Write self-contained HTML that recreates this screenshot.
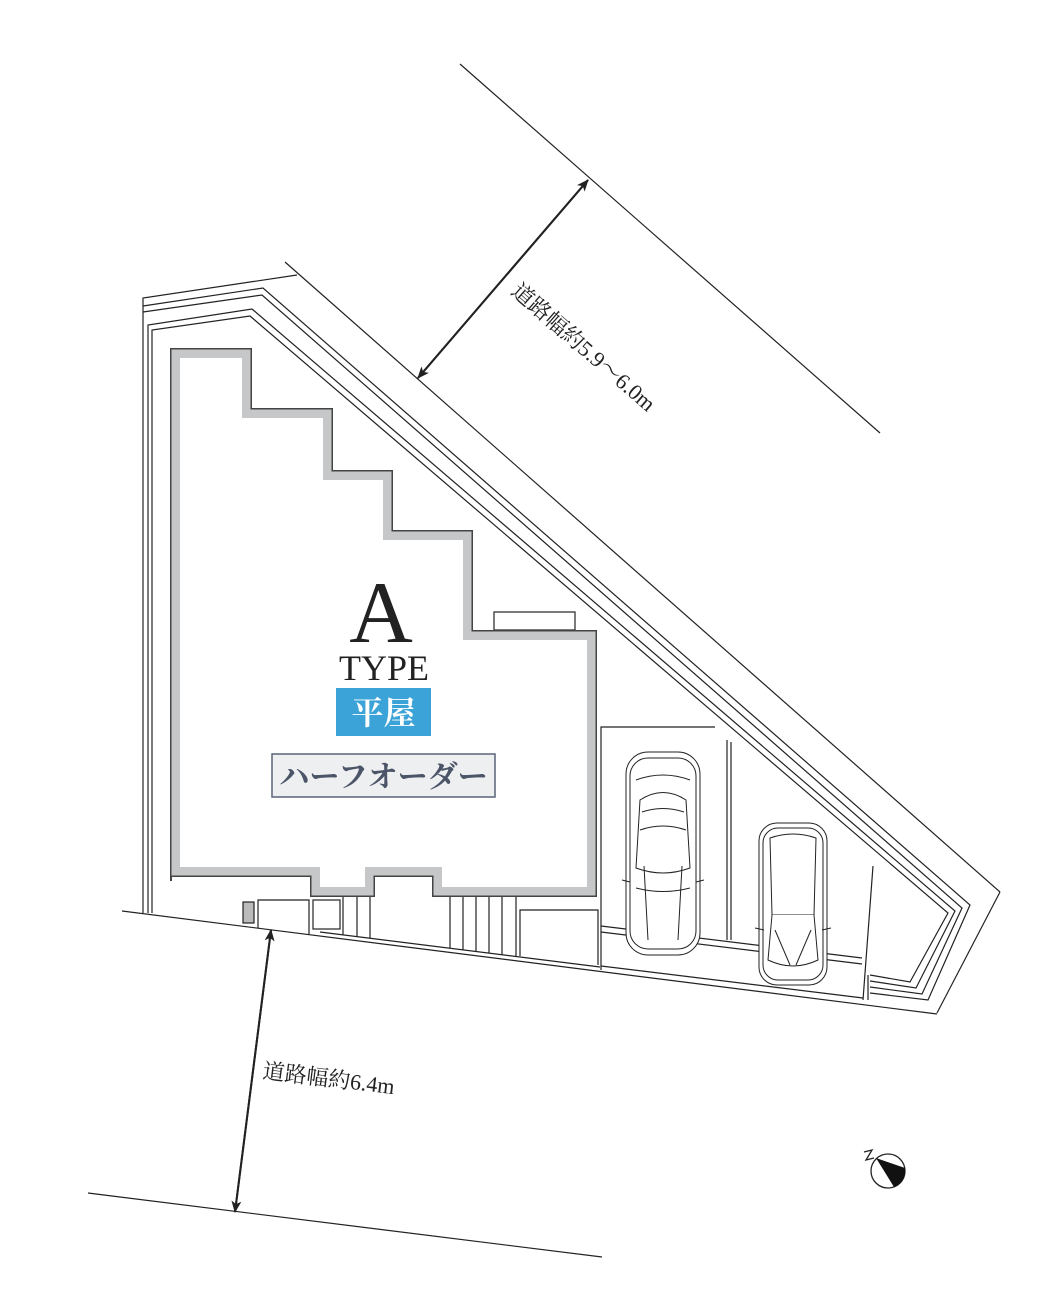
<!DOCTYPE html>
<html><head><meta charset="utf-8"><style>
html,body{margin:0;padding:0;background:#fff;}
svg{display:block;}
</style></head><body>
<svg width="1057" height="1300" viewBox="0 0 1057 1300" xmlns="http://www.w3.org/2000/svg">
<defs>
<clipPath id="bc"><polygon points="170,348 252,348 252,408 333,408 333,470 393,470 393,530 473,530 473,630 597,630 597,897 432,897 432,877 375,877 375,897 310,897 310,877 172,877 172,881 170,881"/></clipPath>
<marker id="ah" markerWidth="12" markerHeight="10" refX="11" refY="5" orient="auto" markerUnits="userSpaceOnUse"><path d="M0,0 L12,5 L0,10 L3,5 z" fill="#222"/></marker>
</defs>
<g fill="none" stroke="#222" stroke-width="1.2">
<line x1="460" y1="64" x2="880" y2="433"/>
<line x1="285" y1="262" x2="1000" y2="892"/>
<line x1="1000" y1="892" x2="937" y2="1013"/>
<line x1="122" y1="911" x2="937" y2="1014"/>
<line x1="88" y1="1193" x2="602" y2="1257"/>
<polyline points="143,913 143,298 297,275"/>
<polyline points="143,306 263,288 970,905 928,1000 870,993"/>
<polyline points="143,312 262,295 962,908 922,994 870,987"/>
<polyline points="148,913 148,325 252,309 955,911 916,988 870,981"/>
<polyline points="152,913 152,330 250,316 948,913 910,982 870,975"/>
<rect x="494" y="612" width="81" height="18"/>
<rect x="243" y="902" width="11" height="21" fill="#bbb"/>
<polyline points="258,928 258,900 309,900 309,934"/>
<rect x="313" y="900" width="27" height="29"/>
<line x1="320" y1="932" x2="600" y2="967"/>
<line x1="343" y1="897" x2="343" y2="935"/>
<line x1="357" y1="897" x2="357" y2="937"/>
<line x1="370" y1="897" x2="370" y2="938"/>
<line x1="450" y1="897" x2="450" y2="948"/>
<line x1="463" y1="897" x2="463" y2="950"/>
<line x1="476" y1="897" x2="476" y2="951"/>
<line x1="489" y1="897" x2="489" y2="953"/>
<line x1="502" y1="897" x2="502" y2="955"/>
<line x1="516" y1="897" x2="516" y2="956"/>
<polyline points="520,956 520,910 598,910 598,965"/>
<polyline points="601,970 601,727 715,727"/>
<line x1="727" y1="740" x2="727" y2="940"/>
<line x1="731" y1="742" x2="731" y2="940"/>
<line x1="601" y1="926" x2="862" y2="958"/>
<line x1="601" y1="932" x2="862" y2="964"/>
<polyline points="873,866 863,1000"/>
<line x1="868" y1="975" x2="868" y2="1000"/>
<line x1="601" y1="966" x2="863" y2="998"/>
</g>
<g clip-path="url(#bc)" fill="none">
<polygon points="170,348 252,348 252,408 333,408 333,470 393,470 393,530 473,530 473,630 597,630 597,897 432,897 432,877 375,877 375,897 310,897 310,877 172,877 172,881 170,881" stroke="#c6c7c8" stroke-width="20"/>
<polygon points="170,348 252,348 252,408 333,408 333,470 393,470 393,530 473,530 473,630 597,630 597,897 432,897 432,877 375,877 375,897 310,897 310,877 172,877 172,881 170,881" stroke="#444" stroke-width="3"/>
</g>
<g fill="#fff" stroke="#222" stroke-width="1">
<rect x="626" y="752" width="74" height="203" rx="22"/>
<rect x="630" y="758" width="66" height="191" rx="18"/>
<path d="M640,800 Q663,785 686,800 L690,868 Q663,878 636,868 Z"/>
<path d="M642,812 Q663,805 684,812 M644,866 L648,940 M682,866 L678,940 M636,888 Q663,895 690,888 M636,780 Q663,770 690,780 M640,830 Q663,822 686,830"/>
<path d="M622,880 L630,882 M704,880 L696,882"/>
<rect x="759" y="823" width="68" height="162" rx="18"/>
<rect x="763" y="828" width="60" height="152" rx="15"/>
<path d="M770,838 Q793,830 816,838 L814,915 L772,915 Z"/>
<path d="M772,915 L768,960 Q793,972 818,960 L814,915 M775,930 L790,965 M811,930 L796,965"/>
<path d="M755,928 L764,930 M831,928 L822,930"/>
</g>
<line x1="588" y1="180" x2="418" y2="378" stroke="#222" stroke-width="2" marker-end="url(#ah)"/>
<line x1="418" y1="378" x2="588" y2="180" stroke="#222" stroke-width="2" marker-end="url(#ah)"/>
<line x1="235" y1="1212" x2="271" y2="930" stroke="#222" stroke-width="2" marker-end="url(#ah)"/>
<line x1="271" y1="930" x2="235" y2="1212" stroke="#222" stroke-width="2" marker-end="url(#ah)"/>
<g font-family="'Liberation Serif','Noto Serif CJK SC',serif" fill="#222">
<text x="510" y="293" font-size="22" transform="rotate(41 510 293)">道路幅約5.9〜6.0m</text>
<text x="262" y="1078" font-size="22" transform="rotate(7 262 1078)">道路幅約6.4m</text>
<text x="381" y="642" font-size="88" text-anchor="middle">A</text>
<text x="384" y="680" font-size="36" text-anchor="middle">TYPE</text>
</g>
<rect x="336" y="688" width="95" height="48" fill="#3ba3d7"/>
<text x="383.5" y="724" font-size="32" font-weight="bold" text-anchor="middle" fill="#fff" font-family="'Noto Serif CJK SC',serif">平屋</text>
<rect x="272" y="754" width="223" height="43" fill="#eeeff1" stroke="#5a6478" stroke-width="1.5"/>
<text x="383.5" y="787" font-size="30" font-weight="bold" text-anchor="middle" fill="#4c5568" font-family="'Noto Serif CJK SC',serif">ハーフオーダー</text>
<circle cx="888" cy="1171" r="17" fill="#fff" stroke="#222" stroke-width="1.3"/>
<path d="M876,1158 L905,1168 A17,17 0 0 1 894,1187 Z" fill="#111"/>
<path d="M864,1152 L872,1150 L866,1160 L874,1158" fill="none" stroke="#222" stroke-width="1.3"/>
</svg>
</body></html>
